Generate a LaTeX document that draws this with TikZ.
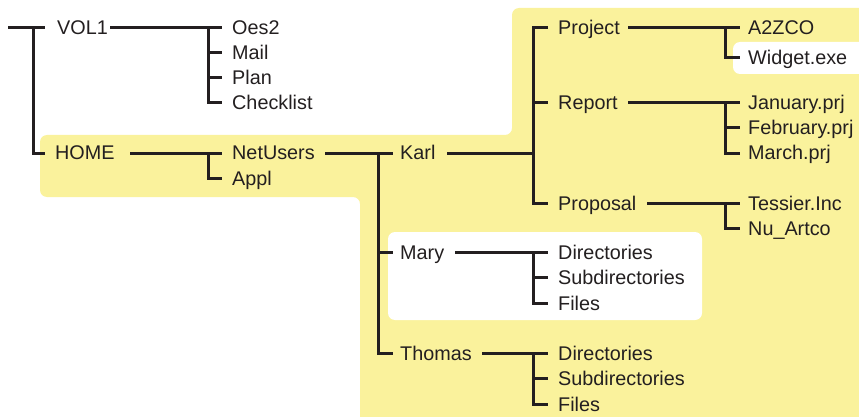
\documentclass[tikz,border=0pt]{standalone}
\usepackage{fontspec}
\setmainfont{Liberation Sans}
\definecolor{bgyellow}{HTML}{FAF29C}
\definecolor{ink}{HTML}{231F20}
\begin{document}
\begin{tikzpicture}[x=1pt,y=-1pt,
 lbl/.style={anchor=west,inner sep=0pt,text height=14pt,text depth=0pt,font=\fontsize{19.8}{23}\selectfont,text=ink},
 tree/.style={draw=ink,line width=3pt},
 panel/.style={fill=bgyellow,rounded corners=7pt},
 hole/.style={fill=white,rounded corners=7pt}]
\useasboundingbox (0,0) rectangle (859,417);
\clip (0,0) rectangle (859,417);
\path[panel] (200,135) -- (512,135) -- (512,8) -- (880,8) -- (880,440) -- (360,440) -- (360,197) -- (40,197) -- (40,135) -- cycle;
\path[hole] (733,42) rectangle (880,74);
\path[hole] (388,232) rectangle (702,320);
% labels
\node[lbl] (vol1) at (57,28) {VOL1};
\node[lbl] (oes2) at (232,28) {Oes2};
\node[lbl] (mail) at (232,53) {Mail};
\node[lbl] (plan) at (232,78) {Plan};
\node[lbl] (chk) at (232,103) {Checklist};
\node[lbl] (home) at (55,153) {HOME};
\node[lbl] (netu) at (232,153) {NetUsers};
\node[lbl] (appl) at (232,178) {Appl};
\node[lbl] (karl) at (400,153) {Karl};
\node[lbl] (proj) at (558,28) {Project};
\node[lbl] (a2z) at (748,28) {A2ZCO};
\node[lbl] (widg) at (748,58) {Widget.exe};
\node[lbl] (rep) at (558,103) {Report};
\node[lbl] (jan) at (748,103) {January.prj};
\node[lbl] (feb) at (748,128) {February.prj};
\node[lbl] (mar) at (748,153) {March.prj};
\node[lbl] (prop) at (558,203) {Proposal};
\node[lbl] (tes) at (748,203) {Tessier.Inc};
\node[lbl] (nu) at (748,228) {Nu\_Artco};
\node[lbl] (mary) at (400,252) {Mary};
\node[lbl] (md) at (558,252) {Directories};
\node[lbl] (ms) at (558,277) {Subdirectories};
\node[lbl] (mf) at (558,303) {Files};
\node[lbl] (thom) at (400,353) {Thomas};
\node[lbl] (td) at (558,353) {Directories};
\node[lbl] (ts) at (558,378) {Subdirectories};
\node[lbl] (tf) at (558,404) {Files};
% connectors
\coordinate (root) at (8,28);
\draw[tree] (root) -- (45,0 |- vol1);
\draw[tree] (33,0 |- vol1) |- (45,0 |- home);
\draw[tree] (110,0 |- vol1) -- (222,0 |- oes2);
\draw[tree] (208,0 |- oes2) |- (222,0 |- chk);
\draw[tree] (208,0 |- mail) -- (222,0 |- mail);
\draw[tree] (208,0 |- plan) -- (222,0 |- plan);
\draw[tree] (130,0 |- home) -- (222,0 |- netu);
\draw[tree] (208,0 |- netu) |- (222,0 |- appl);
\draw[tree] (325,0 |- netu) -- (393,0 |- karl);
\draw[tree] (378,0 |- karl) |- (393,0 |- thom);
\draw[tree] (378,0 |- mary) -- (393,0 |- mary);
\draw[tree] (447,0 |- karl) -- (533,0 |- karl);
\draw[tree] (548,0 |- proj) -| (533,0 |- prop) -- (548,0 |- prop);
\draw[tree] (533,0 |- rep) -- (548,0 |- rep);
\draw[tree] (628,0 |- proj) -- (740,0 |- a2z);
\draw[tree] (725,0 |- a2z) |- (740,0 |- widg);
\draw[tree] (628,0 |- rep) -- (740,0 |- jan);
\draw[tree] (725,0 |- jan) |- (740,0 |- mar);
\draw[tree] (725,0 |- feb) -- (740,0 |- feb);
\draw[tree] (647,0 |- prop) -- (740,0 |- tes);
\draw[tree] (725,0 |- tes) |- (740,0 |- nu);
\draw[tree] (455,0 |- mary) -- (548,0 |- md);
\draw[tree] (533,0 |- md) |- (548,0 |- mf);
\draw[tree] (533,0 |- ms) -- (548,0 |- ms);
\draw[tree] (482,0 |- thom) -- (548,0 |- td);
\draw[tree] (533,0 |- td) |- (548,0 |- tf);
\draw[tree] (533,0 |- ts) -- (548,0 |- ts);
\end{tikzpicture}
\end{document}
